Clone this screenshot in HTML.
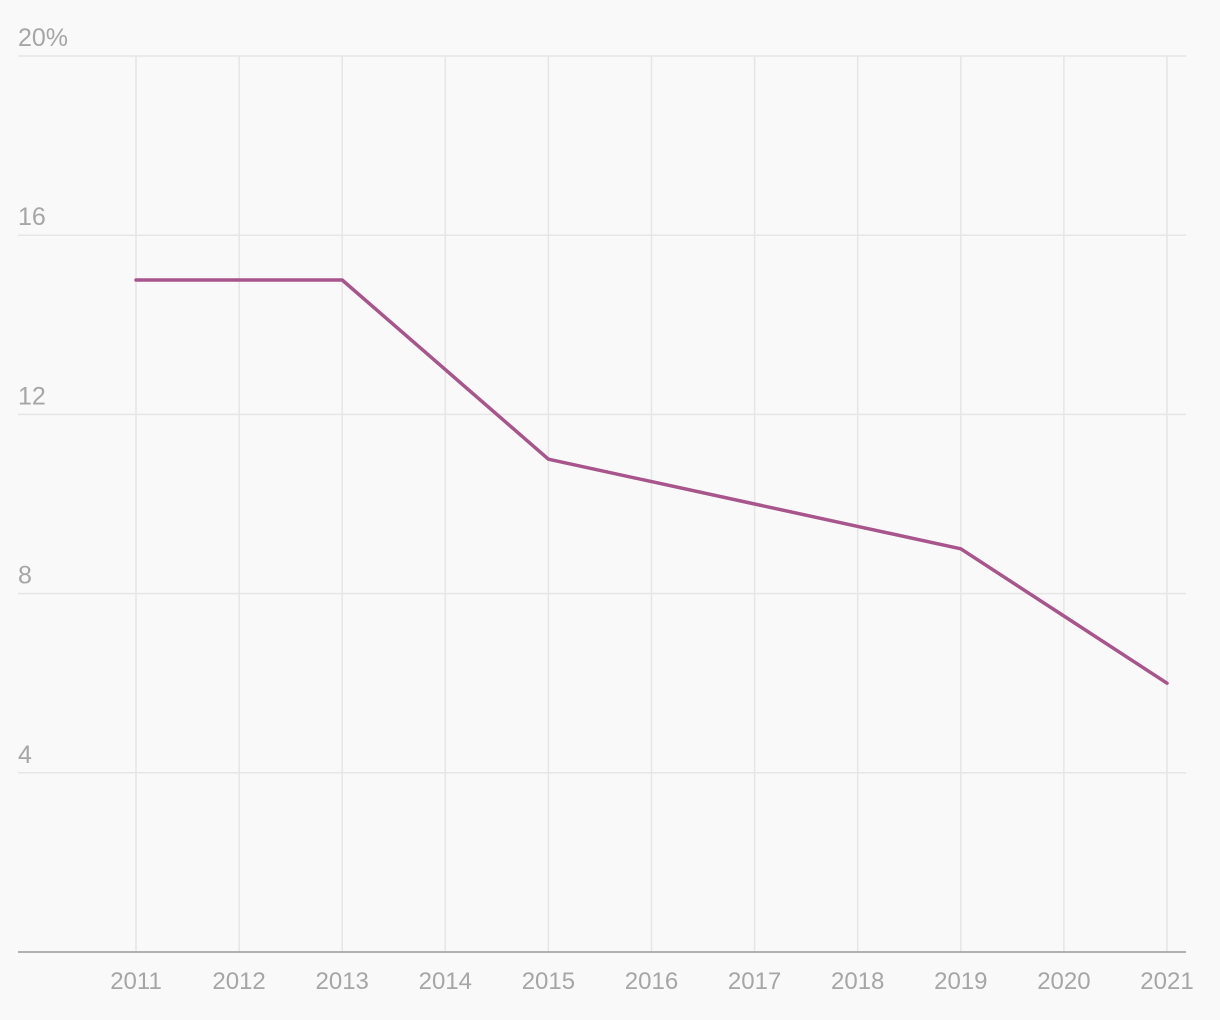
<!DOCTYPE html>
<html><head><meta charset="utf-8"><style>
html,body{margin:0;padding:0;background:#f9f9f9;}
svg{display:block;font-family:"Liberation Sans",sans-serif;}
</style></head><body>
<svg id="chart" width="1220" height="1020"></svg>
<script>
const years=[2011,2012,2013,2014,2015,2016,2017,2018,2019,2020,2021];
const values=[15,15,15,13,11,10.5,10,9.5,9,7.5,6];
const yTicks=[0,4,8,12,16,20];
const yTickLabels=["","4","8","12","16","20%"];
const NS="http://www.w3.org/2000/svg";
const svg=document.getElementById('chart');
const x0=136,x1=1167,yBase=952,yTop=56;
const xs=i=>x0+(x1-x0)*i/(years.length-1);
const ys=v=>yBase-(yBase-yTop)*v/20;
function mk(t,a){const e=document.createElementNS(NS,t);for(const k in a)e.setAttribute(k,a[k]);svg.appendChild(e);return e;}
years.forEach((y,i)=>{
 const l=mk('line',{x1:xs(i),x2:xs(i),y1:yTop,y2:yBase,stroke:'#e6e6e6','stroke-width':1.5});
 
 
 const t=mk('text',{x:xs(i),y:989,'text-anchor':'middle','font-size':24,fill:'#a6a6a6'});
 t.textContent=y;
 
 
});
yTicks.forEach((v,i)=>{
 if(v>0){
 const l=mk('line',{x1:18,x2:1186,y1:ys(v),y2:ys(v),stroke:'#e6e6e6','stroke-width':1.5});
 
 
 const t=mk('text',{x:18,y:ys(v)-10,'font-size':25,fill:'#a6a6a6'});
 t.textContent=yTickLabels[i];
 
 
 }
});
const b=mk('line',{x1:18,x2:1186,y1:yBase,y2:yBase,stroke:'#999','stroke-width':1.5});


const p=mk('polyline',{points:values.map((v,i)=>xs(i)+','+ys(v)).join(' '),fill:'none',stroke:'#a8558c','stroke-width':3.5,'stroke-linejoin':'round','stroke-linecap':'round'});


</script>
</body></html>
